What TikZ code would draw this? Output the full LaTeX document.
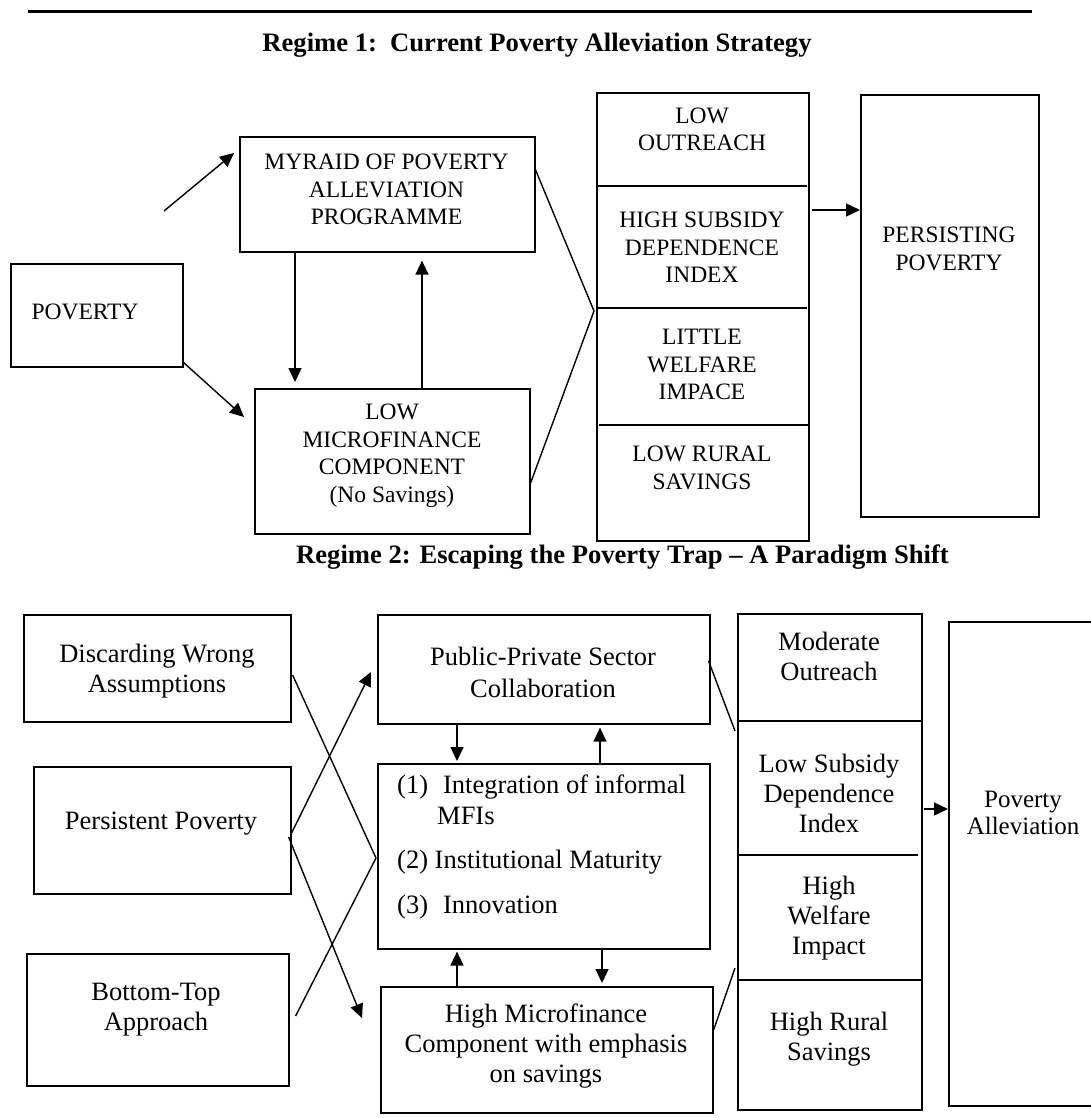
\documentclass[tikz,border=0pt]{standalone}
\usepackage{fontspec}
\setmainfont{Liberation Serif}
\usetikzlibrary{arrows.meta,calc}
\begin{document}
\begin{tikzpicture}[x=1pt,y=-1pt,
  box/.style={draw,line width=1.6pt,rectangle,inner sep=0pt,anchor=north west},
  conn/.style={line width=1.4pt},
  arr/.style={line width=1.4pt,-{Triangle[length=14pt,width=13pt]}},
  ta/.style={font=\fontsize{23.5}{27.5}\selectfont,align=center,inner sep=0pt},
  tb/.style={font=\fontsize{26.5}{30}\selectfont,align=center,inner sep=0pt},
  ln/.style={font=\fontsize{26.5}{30}\selectfont,inner sep=0pt,anchor=west,text height=0.662em,text depth=0pt},
  ttl/.style={font=\fontsize{26.6}{30}\selectfont\bfseries,inner sep=0pt,text height=0.662em,text depth=0pt},
]
\useasboundingbox (0,0) rectangle (1090,1118);

% top rule
\coordinate (ruleL) at (28,12);
\coordinate (ruleR) at (1032,12);
\draw[line width=3pt] (ruleL) -- (ruleR);

% titles
\node[ttl] (title1) at (537,48) {Regime 1:\ \ Current Poverty Alleviation Strategy};
\node[ttl] (title2) at (622.5,560) {Regime 2: Escaping the Poverty Trap – A Paradigm Shift};

% ===== Regime 1 =====
\node[box,minimum width=295pt,minimum height=115pt] (myraid) at (239,136) {};
\node[box,minimum width=172pt,minimum height=103pt] (pov) at (10,263) {};
\node[box,minimum width=275pt,minimum height=145pt] (low) at (254,388) {};
\node[box,minimum width=212pt,minimum height=448pt] (col1) at (596,92) {};
\node[box,minimum width=178pt,minimum height=422pt] (pers) at (860,94) {};

\draw[line width=1.6pt] ($(col1.north west)+(0,94)$) -- ($(col1.north east)+(-3,94)$);
\draw[line width=1.6pt] ($(col1.north west)+(0,216)$) -- ($(col1.north east)+(-3,216)$);
\draw[line width=1.6pt] ($(col1.north west)+(3,333)$) -- ($(col1.north east)+(0,333)$);

\node[ta] (tmyraid) at (386.5,189.5) {MYRAID OF POVERTY\\ALLEVIATION\\PROGRAMME};
\node[ta,text height=0.662em,text depth=0pt] (tpov) at (85,316) {POVERTY};
\node[ta] (tlow) at (392,456) {LOW\\MICROFINANCE\\COMPONENT\\(No Savings)};
\node[ta] (tc11) at (702,129.5) {LOW\\OUTREACH};
\node[ta] (tc12) at (702,247.7) {HIGH SUBSIDY\\DEPENDENCE\\INDEX};
\node[ta] (tc13) at (702,364.7) {LITTLE\\WELFARE\\IMPACE};
\node[ta] (tc14) at (702,468) {LOW RURAL\\SAVINGS};
\node[ta] (tpers) at (949,249) {PERSISTING\\POVERTY};

\coordinate (free1) at (164,211);
\draw[arr] (free1) -- ($(myraid.north west)+(-5,17)$);
\draw[arr] ($(pov.south east)+(0,-5)$) -- ($(low.north west)+(-10,29)$);
\draw[arr] ($(myraid.south west)+(56,0)$) -- ($(low.north west)+(41,-6)$);
\draw[arr] ($(low.north west)+(168,0)$) -- ($(myraid.south west)+(183,8)$);
\coordinate (conv1) at ($(col1.north west)+(-2,219)$);
\draw[conn] ($(myraid.north east)+(0,34)$) -- (conv1);
\draw[conn] ($(low.north east)+(0,95)$) -- (conv1);
\draw[arr] ($(col1.north east)+(2,118)$) -- ($(pers.north west)+(0,116)$);

% ===== Regime 2 =====
\node[box,minimum width=267pt,minimum height=107pt] (disc) at (23,614) {};
\node[box,minimum width=257pt,minimum height=127pt] (persb) at (33,766) {};
\node[box,minimum width=262pt,minimum height=132pt] (bt) at (26,953) {};
\node[box,minimum width=332pt,minimum height=109pt] (pub) at (377,614) {};
\node[box,minimum width=332pt,minimum height=185pt] (integ) at (377,763) {};
\node[box,minimum width=332pt,minimum height=126pt] (high) at (380,986) {};
\node[box,minimum width=184pt,minimum height=496pt] (col2) at (737,613) {};
\node[box,minimum width=150pt,minimum height=484pt] (pa) at (948,621) {};

\draw[line width=1.6pt] ($(col2.north west)+(0,108)$) -- ($(col2.north east)+(-2,108)$);
\draw[line width=1.6pt] ($(col2.north west)+(0,242)$) -- ($(col2.north east)+(-5,242)$);
\draw[line width=1.6pt] ($(col2.north west)+(0,367)$) -- ($(col2.north east)+(-2,367)$);

\node[tb] (tdisc) at (157,671.5) {Discarding Wrong\\Assumptions};
\node[tb] (tpersb) at (161,823.6) {Persistent Poverty};
\node[tb] (tbt) at (156,1010) {Bottom-Top\\Approach};
\node[tb,font=\fontsize{26.5}{32}\selectfont] (tpub) at (543,672) {Public-Private Sector\\Collaboration};
\node[ln] (ti1) at (397,790) {(1)\hspace{15pt}Integration of informal};
\node[ln] (ti1b) at (437,821) {MFIs};
\node[ln] (ti2) at (397,865) {(2) Institutional Maturity};
\node[ln] (ti3) at (397,910) {(3)\hspace{15pt}Innovation};
\node[tb] (thigh) at (546,1045.6) {High Microfinance\\Component with emphasis\\on savings};
\node[tb] (tc21) at (829,656.5) {Moderate\\Outreach};
\node[tb] (tc22) at (829,793) {Low Subsidy\\Dependence\\Index};
\node[tb] (tc23) at (829,918.6) {High\\Welfare\\Impact};
\node[tb] (tc24) at (829,1039.6) {High Rural\\Savings};
\node[tb,font=\fontsize{25}{27}\selectfont] (tpa) at (1023,813) {Poverty\\Alleviation};

\coordinate (conv2) at ($(integ.north west)+(-1,95)$);
\draw[conn] ($(disc.north east)+(1,61)$) -- (conv2);
\draw[conn] ($(bt.north east)+(6,63)$) -- (conv2);
\draw[arr] ($(persb.north east)+(0,67)$) -- ($(pub.north west)+(-6,58)$);
\draw[arr] ($(persb.north east)+(-3,71)$) -- ($(high.north west)+(-18,32)$);
\draw[arr] ($(pub.south west)+(80,0)$) -- ($(integ.north west)+(80,-2)$);
\draw[arr] ($(integ.north west)+(223,0)$) -- ($(pub.south west)+(223,3)$);
\draw[arr] ($(high.north west)+(77,0)$) -- ($(integ.south west)+(80,2)$);
\draw[arr] ($(integ.south west)+(225,0)$) -- ($(high.north west)+(222,-3)$);
\draw[conn] ($(pub.north east)+(-2,47)$) -- ($(col2.north west)+(-2,118)$);
\draw[conn] ($(high.north east)+(0,44)$) -- ($(col2.north west)+(-2,355)$);
\draw[arr] ($(col2.north east)+(1,196)$) -- ($(pa.north west)+(0,188)$);
\end{tikzpicture}
\end{document}
